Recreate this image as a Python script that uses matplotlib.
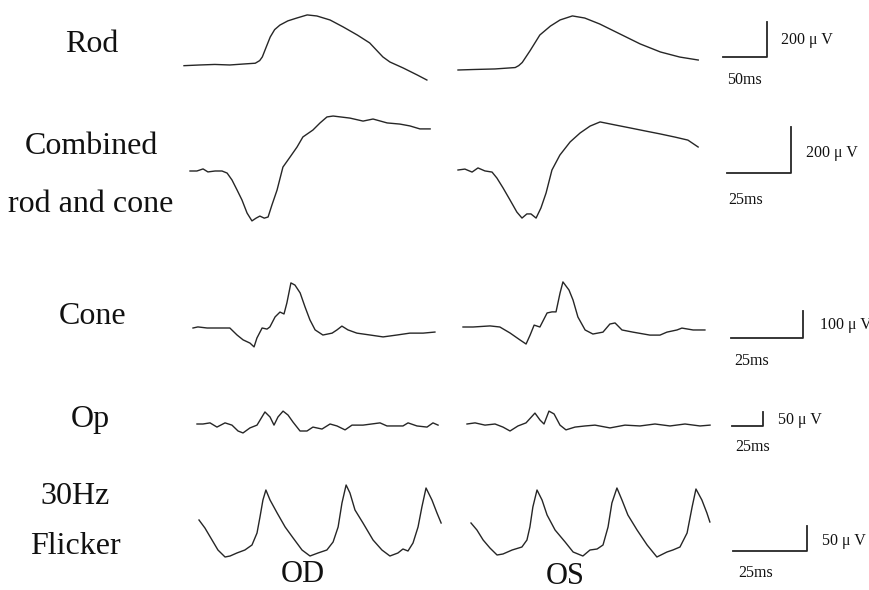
import matplotlib.pyplot as plt
import numpy as np

plt.rcParams['font.family'] = ['Liberation Serif', 'DejaVu Serif']

# traces: time (ms) from trace start, amplitude (uV) from baseline
rod_od_t = [0, 18, 35, 52, 69, 81, 86, 89, 93, 98, 103, 109, 118, 128, 140, 151, 166, 181, 197, 211, 226, 234, 249, 265, 276]
rod_od_v = [-1, 3, 6, 3, 9, 13, 28, 49, 100, 163, 205, 231, 255, 271, 289, 283, 260, 220, 174, 129, 49, 20, -14, -54, -83]
rod_os_t = [0, 19, 42, 65, 69, 73, 82, 93, 105, 116, 130, 144, 161, 184, 207, 230, 252, 273]
rod_os_v = [0, 3, 6, 14, 25, 43, 111, 200, 251, 286, 309, 297, 263, 206, 149, 103, 74, 57]

comb_od_t = [0, 2.7, 5.1, 7.0, 9.8, 12.5, 14.5, 16.4, 18.4, 20.3, 22.3, 24.2, 25.8, 27.3, 29.0, 30.5,
             32.0, 34.0, 36.3, 39.1, 41.8, 44.1, 48.0, 50.8, 53.5, 55.9, 62.5, 67.6, 71.5, 77.0, 82.0,
             85.9, 89.8, 93.8]
comb_od_v = [0, 0, 9, -4, 0, 0, -9, -39, -83, -126, -183, -217, -205, -196, -205, -200,
             -148, -83, 17, 61, 104, 148, 178, 209, 235, 239, 230, 217, 226, 209, 204,
             196, 183, 183]
comb_os_t = [0, 2.7, 5.5, 7.8, 10.5, 13.3, 15.2, 17.6, 20.3, 23.0, 25.0, 26.9, 28.5, 30.5, 32.4, 34.4,
             36.7, 39.8, 43.8, 47.7, 51.6, 55.5, 61.3, 67.2, 73.0, 78.9, 84.8, 89.8, 93.8]
comb_os_v = [0, 4, -9, 9, -4, -9, -35, -78, -130, -183, -209, -191, -191, -209, -165, -100,
             0, 65, 122, 161, 191, 209, 196, 183, 170, 157, 143, 130, 100]

cone_od_t = [0, 1.7, 4.9, 8.3, 12.8, 15.3, 17.4, 19.8, 21.2, 22.2, 24.0, 25.7, 26.7, 28.5, 30.2, 31.6,
             32.6, 34.0, 35.4, 37.2, 38.9, 40.6, 42.4, 45.1, 48.3, 50.0, 51.7, 53.8, 56.9, 61.5,
             66.0, 70.8, 75.3, 79.9, 84.0]
cone_od_v = [0, 4, 0, 0, 0, -26, -44, -56, -70, -37, 0, -4, 4, 41, 59, 52,
             93, 167, 159, 130, 78, 30, -7, -26, -19, -7, 7, -7, -19, -26,
             -33, -26, -19, -19, -15]
cone_os_t = [0, 3.5, 9.4, 12.8, 16.3, 19.8, 21.9, 23.3, 24.7, 26.7, 29.2, 30.9, 32.3, 33.7, 34.7,
             36.8, 38.2, 39.9, 42.4, 45.1, 48.6, 51.0, 52.8, 55.2, 59.0, 64.9, 68.4, 70.8, 74.3,
             76.0, 79.9, 84.0]
cone_os_v = [0, 0, 4, 0, -22, -48, -63, -30, 7, 0, 52, 56, 56, 126, 167,
             137, 100, 37, -11, -26, -19, 11, 15, -11, -19, -30, -30, -19, -11,
             -4, -11, -11]

op_od_t = [0, 4.8, 10.5, 16.1, 22.6, 28.2, 33.1, 37.1, 42.7, 48.4, 54.8, 58.9, 62.1, 65.3, 69.4,
           73.4, 77.4, 83.1, 88.7, 93.5, 100.8, 107.3, 112.9, 119.4, 125.0, 133.9, 147.6, 153.2,
           166.1, 170.2, 177.4, 185.5, 190.3, 194.4]
op_od_v = [0, 0, 4, -11, 4, -4, -25, -32, -14, -4, 43, 25, -4, 25, 46,
           32, 7, -25, -25, -11, -18, 0, -7, -21, -4, -4, 4, -7,
           -7, 4, -7, -11, 4, -4]
op_os_t = [0, 6.5, 14.5, 22.6, 29.0, 34.7, 41.1, 47.6, 54.8, 58.9, 62.1, 66.1, 70.2, 75.0, 79.8,
           87.1, 95.2, 103.2, 115.3, 127.4, 139.5, 151.6, 163.7, 175.8, 187.9, 196.0]
op_os_v = [0, 4, -4, 0, -11, -25, -7, 4, 39, 14, 0, 46, 36, -4, -21,
           -11, -7, -4, -14, -4, -7, 0, -7, 0, -7, -4]

flk_od_t = [0, 2.0, 4.4, 6.4, 8.8, 10.5, 12.8, 15.5, 17.9, 19.6, 20.6, 21.6, 22.6, 24.0, 26.4, 29.1,
            31.8, 34.8, 37.5, 40.2, 43.2, 45.3, 47.0, 48.3, 49.7, 51.0, 52.7, 55.4, 58.8, 61.8,
            64.5, 67.2, 68.9, 70.6, 72.3, 74.0, 75.3, 76.7, 78.7, 80.4, 81.8]
flk_od_v = [60, 44, 20, 0, -14, -12, -6, 0, 10, 34, 66, 100, 120, 100, 74, 46,
            24, 0, -12, -6, 0, 16, 46, 94, 130, 114, 80, 54, 20, 0,
            -12, -6, 2, -2, 14, 46, 86, 124, 100, 74, 54]
flk_os_t = [0, 2.0, 4.1, 6.4, 8.8, 10.8, 13.9, 17.2, 18.9, 19.9, 20.9, 22.3, 24.0, 25.7, 28.4, 31.8,
            34.5, 37.8, 40.2, 42.6, 44.6, 46.3, 47.6, 49.3, 51.0, 53.0, 56.1, 59.5, 62.8, 66.2,
            68.2, 70.6, 73.0, 74.7, 76.0, 78.0, 79.7, 80.7]
flk_os_v = [54, 40, 20, 4, -10, -8, 0, 6, 20, 46, 86, 120, 100, 70, 40, 16,
            -4, -12, 0, 2, 10, 46, 94, 124, 100, 70, 40, 10, -14, -4,
            0, 6, 34, 86, 122, 100, 74, 56]

row_labels = [['Rod'], ['Combined', 'rod and cone'], ['Cone'], ['Op'], ['30Hz', 'Flicker']]
bar_ms = [50, 25, 25, 25, 25]
bar_uv = [200, 200, 100, 50, 50]
eye_labels = ['OD', 'OS']

# layout in pixels: px per ms, px per uV, OD start, OS start, scale bar corner
layout = [
    dict(pxms=0.88, pxuv=0.175, od=(184, 65.5), os=(458, 70), bar=(767, 57),
         lab=[(92, 45)], uvt=(781, 40), mst=(727, 80)),
    dict(pxms=2.56, pxuv=0.23, od=(190, 171), os=(458, 170), bar=(791, 173),
         lab=[(91, 147), (91, 204)], uvt=(806, 153), mst=(728, 200)),
    dict(pxms=2.88, pxuv=0.27, od=(193, 328), os=(463, 327), bar=(803, 338),
         lab=[(93, 316)], uvt=(820, 325), mst=(734, 361)),
    dict(pxms=1.24, pxuv=0.28, od=(197, 424), os=(467, 424), bar=(763, 426),
         lab=[(90, 419)], uvt=(778, 420), mst=(735, 447)),
    dict(pxms=2.96, pxuv=0.5, od=(199, 550), os=(471, 550), bar=(807, 551),
         lab=[(75, 496), (75, 546)], uvt=(822, 541), mst=(738, 573)),
]
traces = [
    ((rod_od_t, rod_od_v), (rod_os_t, rod_os_v)),
    ((comb_od_t, comb_od_v), (comb_os_t, comb_os_v)),
    ((cone_od_t, cone_od_v), (cone_os_t, cone_os_v)),
    ((op_od_t, op_od_v), (op_os_t, op_os_v)),
    ((flk_od_t, flk_od_v), (flk_os_t, flk_os_v)),
]

ink = '#262626'
fig = plt.figure(figsize=(8.7, 5.9), dpi=100)
fig.patch.set_facecolor('white')
base = fig.add_axes([0, 0, 1, 1], label='base')
base.set_xlim(0, 870)
base.set_ylim(590, 0)
base.axis('off')

for i, L in enumerate(layout):
    ax = fig.add_axes([0, 0, 1, 1], label='row%d' % i)
    ax.patch.set_alpha(0)
    sx, sy = L['pxms'], L['pxuv']
    ax.set_xlim(0, 870 / sx)
    ax.set_ylim(-590 / sy, 0)
    ax.axis('off')
    for (t, v), (x0, y0) in zip(traces[i], (L['od'], L['os'])):
        ax.plot(x0 / sx + np.array(t), -y0 / sy + np.array(v), color=ink, lw=1.0)
    bx, by = L['bar']
    ax.plot([bx / sx - bar_ms[i], bx / sx, bx / sx],
            [-by / sy, -by / sy, -by / sy + bar_uv[i]], color=ink, lw=1.3)
    for line, (lx, ly) in zip(row_labels[i], L['lab']):
        base.text(lx, ly, line, fontsize=23, ha='center', va='center', color='#111111')
    base.text(L['uvt'][0], L['uvt'][1], '%d μ V' % bar_uv[i], fontsize=11.5, ha='left',
              va='center', color='#111111')
    base.text(L['mst'][0], L['mst'][1], '%dms' % bar_ms[i], fontsize=11.5, ha='left',
              va='center', color='#111111')

base.text(303, 574, eye_labels[0], fontsize=22, ha='center', va='center', color='#111111')
base.text(565, 576, eye_labels[1], fontsize=22, ha='center', va='center', color='#111111')

fig.savefig('out.png', dpi=100, facecolor='white')
